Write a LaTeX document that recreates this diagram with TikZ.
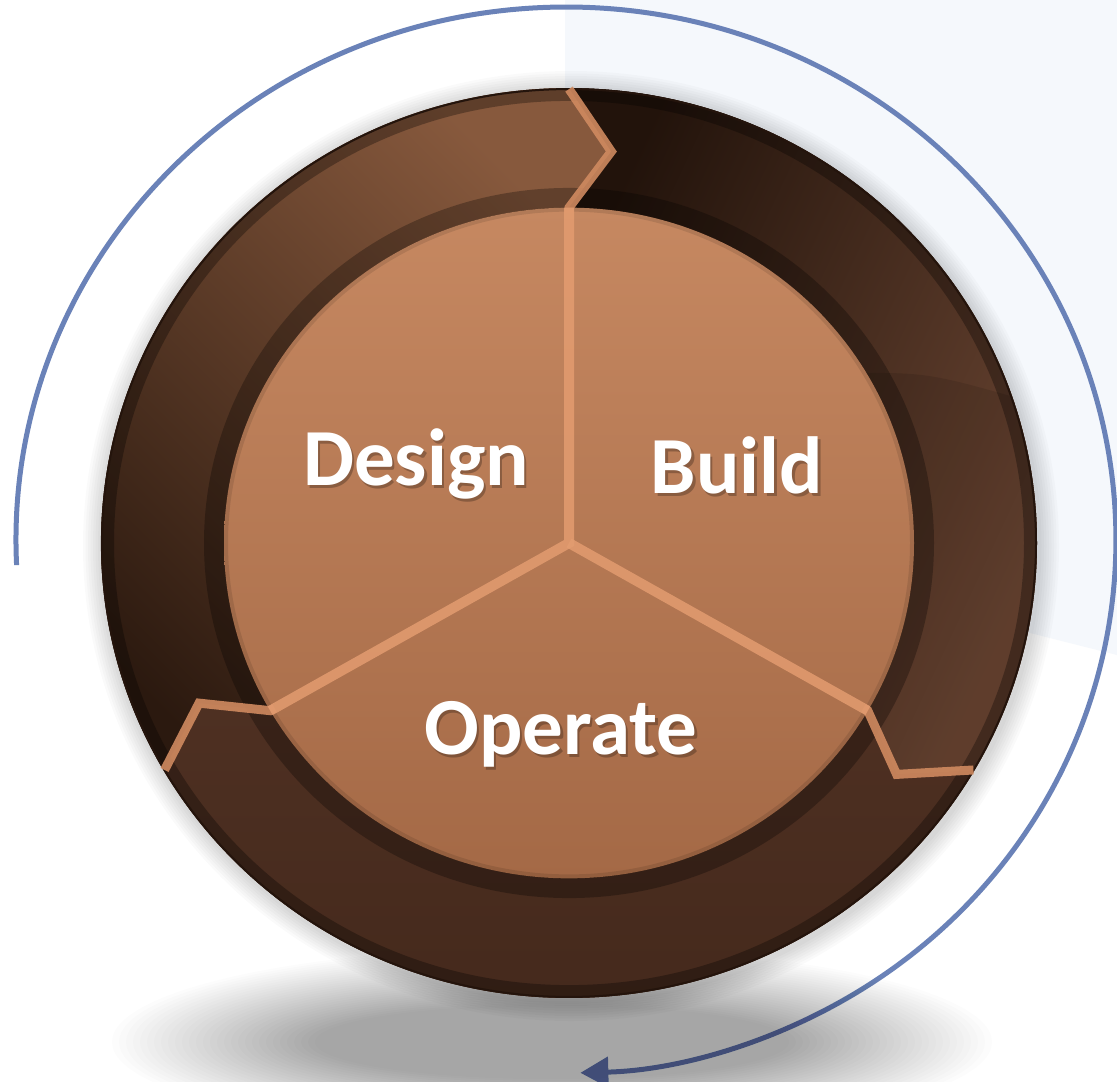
\documentclass[tikz,border=0pt]{standalone}
\usepackage{fontspec}
\setmainfont{Carlito}
\usetikzlibrary{arrows.meta}
\definecolor{bgblue}{HTML}{F5F8FC}
\definecolor{arcblue}{HTML}{6A82B8}
\definecolor{diskbase}{HTML}{2F1C12}
\definecolor{desLight}{HTML}{87593D}
\definecolor{desDark}{HTML}{2B190F}
\definecolor{bldLight}{HTML}{6A4532}
\definecolor{bldDark}{HTML}{22130B}
\definecolor{opTop}{HTML}{4E3022}
\definecolor{opBot}{HTML}{43281B}
\definecolor{innerTop}{HTML}{C68861}
\definecolor{innerBot}{HTML}{A46946}
\definecolor{spokeCol}{HTML}{E39C70}
\definecolor{chevCol}{HTML}{D08A60}
\definecolor{rimLine}{HTML}{24140C}
\tikzset{
  lbl/.style={font=\bfseries\fontsize{81}{97}\selectfont, inner sep=0pt, anchor=base},
  lblshadow/.style={lbl, text=black, opacity=0.25},
  lbltext/.style={lbl, text=white},
  spoke/.style={draw=spokeCol, opacity=0.85, line width=10pt, line join=miter, line cap=butt},
  chevron/.style={draw=chevCol, opacity=0.9, line width=9pt, line join=miter, line cap=butt},
}
\begin{document}
\begin{tikzpicture}[x=1pt,y=1pt]
\useasboundingbox (0,0) rectangle (1117,-1082);
\fill[white] (0,0) rectangle (1117,-1082);
\fill[bgblue] (565,0) -- (1117,0) -- (1117,-655) -- (900,-600) -- (565,-520) -- cycle;

% blue cycle arc
\draw[arcblue, line width=5pt, -{Triangle[length=28pt, width=30pt]}]
  (16.6,-565.1) arc[start angle=182.7, end angle=-88.5, x radius=550, y radius=533];

% ground shadow
\foreach \k in {0,...,29} {
  \fill[black, opacity=0.011] (552,-1042) ellipse[x radius={440-7*\k}, y radius={95-2*\k}];
}
% glow around the disk
\foreach \k in {1,...,8} {
  \fill[black, opacity=0.018] (571,-546) ellipse[x radius={468+2.5*\k}, y radius={455+2.5*\k}];
}

\begin{scope}[shift={(569,-543)}, yscale=0.972]
  \coordinate (c) at (0,0);
  \fill[diskbase] (c) circle[radius=468];
  % ring segments
  \path[top color=desLight, bottom color=desDark, shading angle=-45]
    (90:468) -- (84:405) -- (90:345) arc[start angle=90, end angle=210, radius=345]
    -- (204:405) -- (210:468) arc[start angle=210, end angle=90, radius=468] -- cycle;
  \path[top color=bldLight, bottom color=bldDark, shading angle=-115]
    (-30:468) -- (-36:405) -- (-30:345) arc[start angle=-30, end angle=90, radius=345]
    -- (84:405) -- (90:468) arc[start angle=90, end angle=-30, radius=468] -- cycle;
  \path[top color=opTop, bottom color=opBot]
    (210:468) -- (204:405) -- (210:345) arc[start angle=210, end angle=330, radius=345]
    -- (324:405) -- (330:468) arc[start angle=330, end angle=210, radius=468] -- cycle;
  % darker lower part of the Build segment
  \begin{scope}
    \clip (-30:468) -- (-36:405) -- (-30:345) arc[start angle=-30, end angle=90, radius=345]
      -- (84:405) -- (90:468) arc[start angle=90, end angle=-30, radius=468] -- cycle;
    \fill[black, opacity=0.1] (32:330) .. controls (26:400) .. (17:490) -- (0:600)
      -- (-45:600) -- (-60:600) -- (-60:300) -- cycle;
  \end{scope}
  % outer rim
  \draw[black, opacity=0.3, line width=12pt] (c) circle[radius=461];
  \draw[rimLine, line width=2pt] (c) circle[radius=467];
  % inner dark rim
  \draw[black, opacity=0.28, line width=20pt] (c) circle[radius=355];
  % inner disc
  \shade[top color=innerTop, bottom color=innerBot] (c) circle[radius=345];
  \draw[black, opacity=0.1, line width=4pt] (c) circle[radius=343];
  % chevrons in the ring
  \draw[chevron] (90:340) -- (90:345) -- (84:405) -- (90:467);
  \draw[chevron] (210:340) -- (210:345) -- (204:405) -- (210:467);
  \draw[chevron] (330:340) -- (330:345) -- (324:405) -- (330:467);
  % spokes
  \draw[spoke] (90:345) -- (c) -- (210:345);
  \draw[spoke] (c) -- (330:345);
\end{scope}

% labels
\node[lblshadow] (designS) at (418.5,-488) {Design};
\node[lblshadow] (buildS) at (739.5,-496) {Build};
\node[lblshadow] (operateS) at (563.5,-757) {Operate};
\node[lbltext] (design) at (416,-485) {Design};
\node[lbltext] (build) at (737,-493) {Build};
\node[lbltext] (operate) at (561,-754) {Operate};
\end{tikzpicture}
\end{document}
